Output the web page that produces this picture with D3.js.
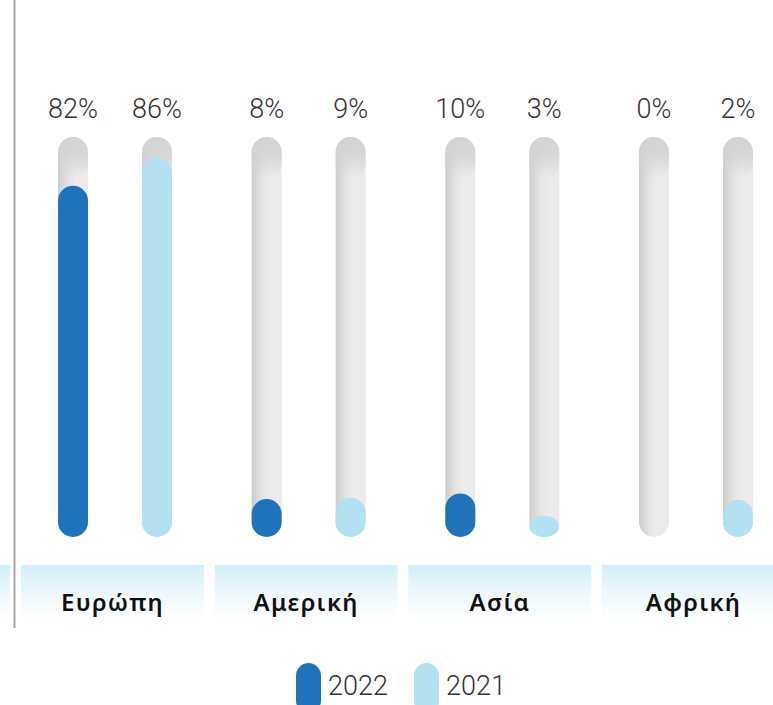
<!DOCTYPE html>
<html>
<head>
<meta charset="utf-8">
<script src="https://cdn.jsdelivr.net/npm/d3@7"></script>
<style>
  body { margin: 0; background: #fff; }
  svg { display: block; }
</style>
</head>
<body>
<svg id="chart"></svg>
<script>
var categories = ["Ευρώπη", "Αμερική", "Ασία", "Αφρική"];
var series = ["2022", "2021"];
// bar heights as share of the track
var values2022 = [87.8, 9.5, 10.9, 0];
var values2021 = [94.8, 9.8, 5.3, 9.3];
// printed labels above the tracks
var labels2022 = ["82%", "8%", "10%", "0%"];
var labels2021 = ["86%", "9%", "3%", "2%"];
var colors = ["#1f73bb", "#b3e1f1"];

var svgWidth = 773;
var svgHeight = 705;
var barWidth = 30;

var svg = d3.select("#chart")
    .attr("width", svgWidth)
    .attr("height", svgHeight);

var defs = svg.append("defs");

var trackGrad = defs.append("linearGradient")
    .attr("id", "trackGrad")
    .attr("x1", "0").attr("x2", "1").attr("y1", "0").attr("y2", "0");
trackGrad.append("stop").attr("offset", "0").attr("stop-color", "#cdcdcd");
trackGrad.append("stop").attr("offset", "0.35").attr("stop-color", "#e4e4e4");
trackGrad.append("stop").attr("offset", "0.6").attr("stop-color", "#ececec");
trackGrad.append("stop").attr("offset", "1").attr("stop-color", "#eaeaea");

var capGrad = defs.append("linearGradient")
    .attr("id", "capGrad")
    .attr("x1", "0").attr("x2", "0").attr("y1", "0").attr("y2", "1");
capGrad.append("stop").attr("offset", "0").attr("stop-color", "#d3d3d3").attr("stop-opacity", 1);
capGrad.append("stop").attr("offset", "0.45").attr("stop-color", "#d3d3d3").attr("stop-opacity", 0.8);
capGrad.append("stop").attr("offset", "1").attr("stop-color", "#d3d3d3").attr("stop-opacity", 0);

var bandGrad = defs.append("linearGradient")
    .attr("id", "bandGrad")
    .attr("x1", "0").attr("x2", "0").attr("y1", "0").attr("y2", "1");
bandGrad.append("stop").attr("offset", "0").attr("stop-color", "#d4eef8");
bandGrad.append("stop").attr("offset", "0.5").attr("stop-color", "#eef8fc");
bandGrad.append("stop").attr("offset", "1").attr("stop-color", "#ffffff");

var x = d3.scaleBand()
    .domain(categories)
    .range([21, 785])
    .paddingInner(0.055);

var xSeries = d3.scalePoint()
    .domain(series)
    .range([52, 136]);

var y = d3.scaleLinear()
    .domain([0, 100])
    .range([537, 137]);

// left axis line
svg.append("line")
    .attr("x1", 14.5).attr("x2", 14.5)
    .attr("y1", 0).attr("y2", 628)
    .attr("stroke", "#a8a8a8")
    .attr("stroke-width", 2);

// category bands (one more off to the left, cut by the frame)
var bandTop = 565, bandHeight = 56;
svg.append("rect")
    .attr("x", x(categories[0]) - x.step())
    .attr("y", bandTop)
    .attr("width", x.bandwidth())
    .attr("height", bandHeight)
    .attr("fill", "url(#bandGrad)");

svg.selectAll("rect.band")
    .data(categories)
    .enter()
    .append("rect")
    .attr("class", "band")
    .attr("x", function(d) { return x(d); })
    .attr("y", bandTop)
    .attr("width", x.bandwidth())
    .attr("height", bandHeight)
    .attr("fill", "url(#bandGrad)");

svg.selectAll("text.cat")
    .data(categories)
    .enter()
    .append("text")
    .attr("class", "cat")
    .attr("x", function(d) { return x(d) + x.bandwidth() / 2; })
    .attr("y", 611)
    .attr("text-anchor", "middle")
    .attr("font-family", "'Noto Sans', sans-serif")
    .attr("font-weight", 600)
    .attr("font-size", 24)
    .attr("letter-spacing", 1.3)
    .attr("fill", "#111")
    .text(function(d) { return d; });

var rows = [];
categories.forEach(function(c, i) {
    rows.push({ cat: c, s: "2022", v: values2022[i], label: labels2022[i], color: colors[0] });
    rows.push({ cat: c, s: "2021", v: values2021[i], label: labels2021[i], color: colors[1] });
});

function cx(d) { return x(d.cat) + xSeries(d.s); }

var g = svg.append("g");

g.selectAll("rect.track")
    .data(rows)
    .enter()
    .append("rect")
    .attr("class", "track")
    .attr("x", function(d) { return cx(d) - barWidth / 2; })
    .attr("y", y(100))
    .attr("width", barWidth)
    .attr("height", y(0) - y(100))
    .attr("rx", barWidth / 2)
    .attr("fill", "url(#trackGrad)");

g.selectAll("rect.cap")
    .data(rows)
    .enter()
    .append("rect")
    .attr("class", "cap")
    .attr("x", function(d) { return cx(d) - barWidth / 2; })
    .attr("y", y(100))
    .attr("width", barWidth)
    .attr("height", 42)
    .attr("rx", barWidth / 2)
    .attr("fill", "url(#capGrad)");

g.selectAll("rect.bar")
    .data(rows.filter(function(d) { return d.v > 0; }))
    .enter()
    .append("rect")
    .attr("class", "bar")
    .attr("x", function(d) { return cx(d) - barWidth / 2; })
    .attr("y", function(d) { return y(d.v); })
    .attr("width", barWidth)
    .attr("height", function(d) { return y(0) - y(d.v); })
    .attr("rx", barWidth / 2)
    .attr("fill", function(d) { return d.color; });

g.selectAll("text.val")
    .data(rows)
    .enter()
    .append("text")
    .attr("class", "val")
    .attr("x", cx)
    .attr("y", 118)
    .attr("text-anchor", "middle")
    .attr("font-family", "Roboto, sans-serif")
    .attr("font-weight", 300)
    .attr("font-size", 27)
    .attr("fill", "#333")
    .text(function(d) { return d.label; });

// legend
var legendX = [296, 414];
var legend = svg.selectAll("g.legend")
    .data(series)
    .enter()
    .append("g")
    .attr("class", "legend")
    .attr("transform", function(d, i) { return "translate(" + legendX[i] + ",663)"; });

legend.append("rect")
    .attr("width", 25)
    .attr("height", 50)
    .attr("rx", 12.5)
    .attr("fill", function(d, i) { return colors[i]; });

legend.append("text")
    .attr("x", 32)
    .attr("y", 32)
    .attr("font-family", "Roboto, sans-serif")
    .attr("font-weight", 300)
    .attr("font-size", 27)
    .attr("fill", "#333")
    .text(function(d) { return d; });
</script>
</body>
</html>
